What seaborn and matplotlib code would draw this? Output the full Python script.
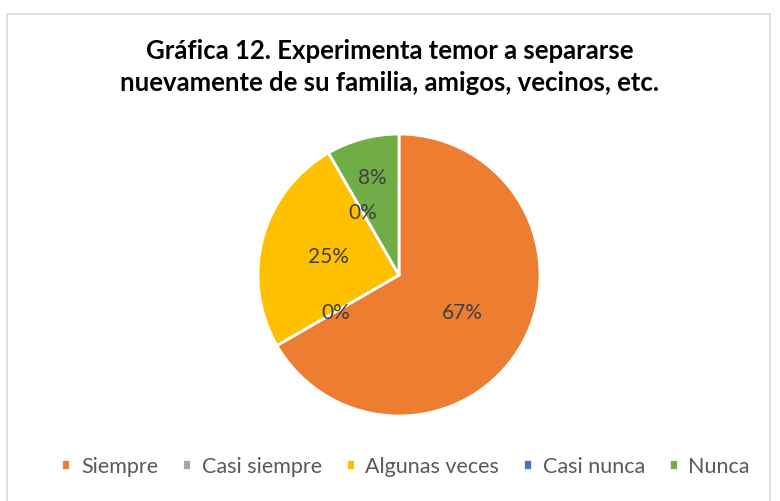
import matplotlib
matplotlib.use('Agg')
import matplotlib.pyplot as plt
import seaborn as sns
from matplotlib.patches import Rectangle

# data
categories = ['Siempre', 'Casi siempre', 'Algunas veces', 'Casi nunca', 'Nunca']
counts = [8, 0, 3, 0, 1]
colors = ['#ED7D31', '#A5A5A5', '#FFC000', '#4472C4', '#70AD47']
title = 'Gráfica 12. Experimenta temor a separarse\nnuevamente de su familia, amigos, vecinos, etc.'

sns.set_theme(style='white')
plt.rcParams['font.family'] = ['Lato', 'DejaVu Sans']

W, H = 780, 502
fig = plt.figure(figsize=(W / 100, H / 100), dpi=100)
fig.patch.set_facecolor('white')

# pie centre and radius in pixels
cx, cy, r = 399, 276, 141
ax = fig.add_axes([(cx - r) / W, (H - cy - r) / H, 2 * r / W, 2 * r / H])

wedges, texts, autotexts = ax.pie(
    counts, colors=colors, startangle=90, counterclock=False,
    autopct='%.0f%%', pctdistance=0.52,
    wedgeprops=dict(edgecolor='white', linewidth=2),
    textprops=dict(color='#404040', fontsize=15))
ax.set_xlim(-1, 1)
ax.set_ylim(-1, 1)
ax.axis('off')

# the small "Nunca" label sits further out, as in the original
x, y = autotexts[4].get_position()
autotexts[4].set_position((x * 0.72 / 0.52, y * 0.72 / 0.52))

fig.text(0.5, 1 - 67 / H, title, ha='center', va='center',
         fontsize=18.5, fontweight='bold', color='black', linespacing=1.4)

fig.legend(wedges, categories, loc='center', bbox_to_anchor=(0.52, 1 - 467 / H),
           ncol=5, frameon=False, fontsize=15.5, labelcolor='#595959',
           handlelength=0.42, handleheight=0.42, handletextpad=0.5,
           columnspacing=1.1)

# light frame like the original chart area
fig.patches.append(Rectangle((7 / W, -0.02), (770 - 7) / W, 1 - 15 / H + 0.02,
                             transform=fig.transFigure, fill=False,
                             edgecolor='#D9D9D9', linewidth=1.2))

fig.savefig('out.png', dpi=100)
